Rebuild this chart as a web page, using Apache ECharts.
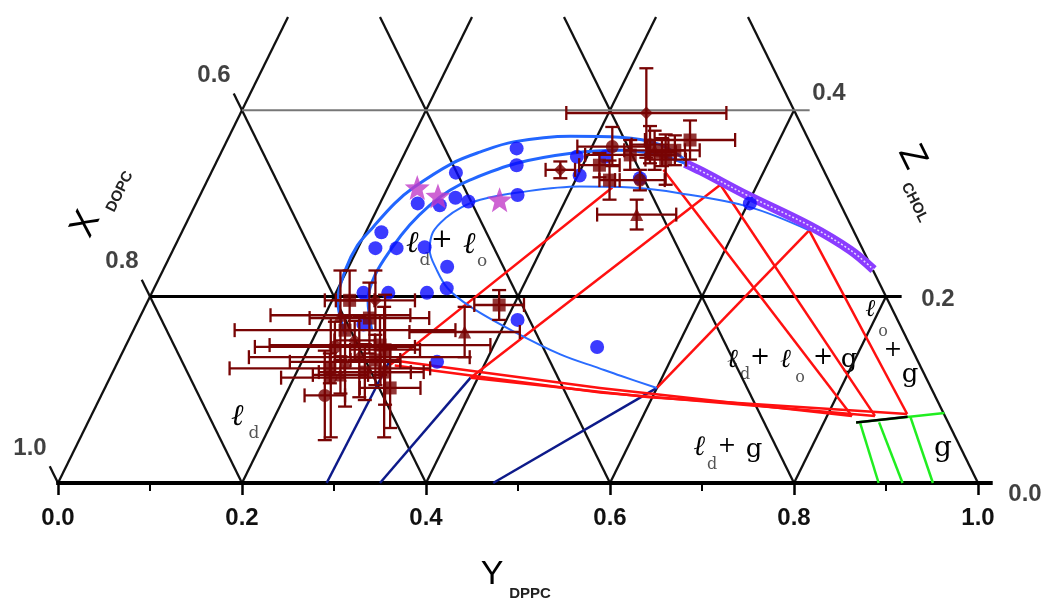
<!DOCTYPE html>
<html>
<head>
<meta charset="utf-8">
<title>DOPC / DPPC / Cholesterol phase diagram</title>
<script src="https://cdn.jsdelivr.net/npm/echarts/dist/echarts.min.js"></script>
<style>
  html, body { margin: 0; padding: 0; background: #fff; }
  #main { width: 1048px; height: 606px; }
</style>
</head>
<body>
<div id="main"></div>
<script>
// Compositions are given as [DPPC, CHOL] mole fractions; DOPC = 1 - DPPC - CHOL.
const tickValues = [0, 0.2, 0.4, 0.6, 0.8, 1.0];
const cholTop = 0.5;
const dopcLabels = [0.6, 0.8, 1.0];   // X_DOPC read along the left edge
const cholLabels = [0.4, 0.2, 0.0];   // Z_CHOL read along the right edge

// phase boundaries
const outerBoundary = [[0.233,0.159],[0.206,0.196],[0.198,0.229],[0.198,0.255],[0.205,0.274],[0.216,0.300],[0.228,0.317],[0.257,0.343],[0.281,0.355],[0.312,0.366],[0.371,0.372],[0.425,0.371],[0.473,0.363],[0.515,0.343]];
const middleBoundary = [[0.259,0.164],[0.239,0.196],[0.233,0.223],[0.237,0.253],[0.244,0.277],[0.255,0.298],[0.269,0.314],[0.285,0.325],[0.327,0.343],[0.383,0.354],[0.432,0.357],[0.478,0.352],[0.516,0.341]];
const innerBoundary = [[0.600,0.102],[0.554,0.115],[0.527,0.123],[0.477,0.138],[0.413,0.163],[0.354,0.189],[0.319,0.209],[0.297,0.229],[0.279,0.250],[0.273,0.269],[0.279,0.284],[0.291,0.296],[0.307,0.304],[0.346,0.312],[0.408,0.318],[0.464,0.317],[0.520,0.311],[0.604,0.296],[0.681,0.271]];
const loBand = [[0.510,0.343],[0.531,0.335],[0.594,0.309],[0.679,0.276],[0.736,0.250],[0.772,0.229]];

// tie lines and three-phase triangle edges
const redLines = [
  [[0.298,0.127],[0.444,0.317]],
  [[0.392,0.113],[0.560,0.320]],
  [[0.600,0.102],[0.681,0.271]],
  [[0.490,0.336],[0.827,0.072]],
  [[0.560,0.320],[0.852,0.072]],
  [[0.681,0.271],[0.886,0.074]],
  [[0.295,0.132],[0.538,0.102],[0.827,0.072]],
  [[0.303,0.126],[0.541,0.097],[0.852,0.072]],
  [[0.392,0.113],[0.597,0.092],[0.886,0.074]]
];
const navyLines = [
  [[0.292,0],[0.295,0.132]],
  [[0.350,0],[0.392,0.113]],
  [[0.473,0],[0.600,0.102]]
];
const greenLines = [
  [[0.835,0.065],[0.926,0.075]],
  [[0.840,0.064],[0.892,0]],
  [[0.860,0.065],[0.918,0]],
  [[0.891,0.071],[0.951,0]]
];
const gelEdge = [[0.835,0.065],[0.888,0.071]];

// measured compositions
const blueDots = [[0.319,0.359],[0.328,0.341],[0.389,0.350],[0.402,0.330],[0.345,0.309],[0.266,0.333],[0.279,0.306],[0.295,0.302],[0.241,0.300],[0.266,0.298],[0.217,0.269],[0.219,0.252],[0.242,0.252],[0.272,0.253],[0.307,0.232],[0.318,0.209],[0.299,0.204],[0.230,0.204],[0.257,0.204],[0.247,0.170],[0.412,0.175],[0.513,0.146],[0.347,0.130],[0.469,0.327],[0.420,0.350],[0.602,0.300]];
const stars = [[0.232,0.317],[0.259,0.308],[0.328,0.304]];
// [DPPC, CHOL, horizontal half-error, vertical half-error]
const errPoints = [
  [0.230,0.164,0.120,0.000],[0.217,0.180,0.076,0.048],[0.250,0.177,0.065,0.038],
  [0.228,0.146,0.087,0.027],[0.276,0.148,0.120,0.032],[0.260,0.135,0.120,0.043],
  [0.234,0.123,0.109,0.016],[0.247,0.130,0.060,0.048],[0.284,0.143,0.038,0.059],
  [0.240,0.113,0.054,0.064],[0.295,0.119,0.043,0.070],[0.247,0.196,0.043,0.032],
  [0.219,0.196,0.027,0.032],[0.361,0.162,0.060,0.027],[0.384,0.191,0.027,0.016],
  [0.243,0.094,0.022,0.048],[0.310,0.102,0.033,0.043],
  [0.441,0.397,0.087,0.048],[0.503,0.368,0.049,0.021],[0.470,0.357,0.033,0.021],
  [0.446,0.352,0.049,0.016],[0.422,0.361,0.038,0.021],[0.487,0.347,0.022,0.027],
  [0.378,0.336,0.016,0.009],[0.437,0.325,0.011,0.021],[0.485,0.288,0.043,0.016],
  [0.418,0.341,0.022,0.013],[0.470,0.325,0.027,0.011],[0.492,0.357,0.027,0.016],
  [0.246,0.153,0.022,0.021],[0.279,0.132,0.027,0.027],[0.249,0.116,0.030,0.020],
  [0.274,0.119,0.050,0.030],[0.462,0.363,0.020,0.020],[0.479,0.355,0.015,0.015]
];

const toXY = ([d, c]) => [d + c / 2, c];
const poly = pts => ({ coords: pts.map(toXY) });

// triangle frame: constant-DPPC, constant-DOPC and constant-CHOL lines
const stub = 0.018, over = 0.017;
const frameLines = [];
tickValues.slice(0, -1).forEach(d => frameLines.push(poly([[d, 0], [d, Math.min(cholTop, 1 - d)]])));
tickValues.forEach(o => {
  const d0 = 1 - o;
  if (d0 === 0) frameLines.push(poly([[0, 0], [-stub, stub]]));
  else if (d0 <= cholTop) frameLines.push(poly([[d0, 0], [-stub, d0 + stub]]));
  else frameLines.push(poly([[d0, 0], [d0 - cholTop, cholTop]]));
});

const starPath = 'path://' + Array.from({ length: 10 }, (_, i) => {
  const r = i % 2 ? 0.42 : 1, a = Math.PI / 2 + i * Math.PI / 5;
  return (i ? 'L' : 'M') + (50 + 50 * r * Math.cos(a)).toFixed(2) + ' ' + (50 - 50 * r * Math.sin(a)).toFixed(2);
}).join('') + 'Z';

const bold = '"Liberation Sans", Arial, sans-serif';
const edgeLabelStyle = { color: '#111', fontFamily: bold, fontWeight: 'bold', fontSize: 24 };
const rightNudge = [[35, -17], [52, 3], [47, 11]];
const maroon = '#780404';

const chart = echarts.init(document.getElementById('main'));

const lineSet = (data, color, width, z, extra) => Object.assign({
  type: 'lines', coordinateSystem: 'cartesian2d', polyline: true, clip: false,
  silent: true, z, data, lineStyle: { color, width, opacity: 1 }
}, extra || {});

const curve = (pts, color, width, z) => ({
  type: 'line', data: pts.map(toXY), smooth: 0.35, showSymbol: false, clip: false,
  silent: true, z, lineStyle: { color, width }
});

const txt = (text, x, y, size, opts) => ({
  type: 'text', x, y, silent: true,
  style: Object.assign({
    text, fill: '#000', font: size + 'px "DejaVu Serif", serif',
    textAlign: 'center', textVerticalAlign: 'middle', align: 'center', verticalAlign: 'middle'
  }, opts || {})
});
const ell = (x, y, size) => txt('ℓ', x, y, size, { font: 'italic bold ' + size + 'px "DejaVu Serif", serif' });
const sub = (t, x, y, size) => txt(t, x, y, size || 16, { fill: '#555' });

chart.setOption({
  animation: false,
  backgroundColor: '#fff',
  grid: { left: 58, right: 70, top: 17, bottom: 123 },
  xAxis: {
    type: 'value', min: 0, max: 1, interval: 0.2,
    axisLine: { show: false }, splitLine: { show: false },
    axisTick: { show: true, length: 12, lineStyle: { color: '#000', width: 2.5 } },
    minorTick: { show: true, splitNumber: 2, length: 8, lineStyle: { color: '#000', width: 2 } },
    axisLabel: { margin: 23, showMinLabel: true, showMaxLabel: true, formatter: v => v.toFixed(1),
      color: '#111', fontFamily: bold, fontWeight: 'bold', fontSize: 24 }
  },
  yAxis: { type: 'value', min: 0, max: cholTop, show: false },
  series: [
    lineSet(frameLines, '#111', 2.3, 1),
    lineSet([poly([[0, 0.2], [0.8 + over, 0.2]])], '#000', 3, 1),
    lineSet([poly([[0, 0.4], [0.6 + over, 0.4]])], '#777', 2, 1),
    lineSet([{ coords: [[-0.002, 0], [1.016, 0]] }], '#000', 4, 2),
    lineSet(navyLines.map(poly), '#0d1a8a', 2.5, 3),
    lineSet(redLines.map(poly), '#ff1010', 2.5, 3),
    lineSet(greenLines.map(poly), '#20ee20', 2.5, 3),
    lineSet([poly(gelEdge)], '#000', 2.5, 4),
    curve(outerBoundary, '#2266ff', 3, 3),
    curve(middleBoundary, '#2266ff', 3, 3),
    curve(innerBoundary, '#2a6cff', 2, 3),
    curve(loBand, '#8a3cff', 9, 4),
    Object.assign(curve(loBand, '#e6d6ff', 1.5, 5), { lineStyle: { color: '#e6d6ff', width: 1.5, type: [2, 2] } }),
    {
      type: 'scatter', data: blueDots.map(toXY), symbol: 'circle', symbolSize: 14, z: 6, silent: true,
      itemStyle: { color: '#0a0aff' }
    },
    {
      type: 'scatter', data: stars.map(toXY), symbol: starPath, symbolSize: 25, z: 7, silent: true,
      itemStyle: { color: '#c23cc8' }
    },
    {
      type: 'custom', z: 8, silent: true,
      data: errPoints.map(([d, c, ex, ey]) => [d + c / 2, c, ex, ey]),
      encode: { x: 0, y: 1 },
      renderItem(params, api) {
        const x = api.value(0), c = api.value(1), ex = api.value(2), ey = api.value(3);
        const L = api.coord([x - ex, c]), R = api.coord([x + ex, c]);
        const T = api.coord([x, c + ey]), B = api.coord([x, c - ey]);
        const cap = 7, style = { stroke: maroon, lineWidth: 2.3 };
        const ln = (x1, y1, x2, y2) => ({ type: 'line', shape: { x1, y1, x2, y2 }, style });
        const kids = [];
        if (ex > 0) kids.push(ln(L[0], L[1], R[0], R[1]), ln(L[0], L[1] - cap, L[0], L[1] + cap), ln(R[0], R[1] - cap, R[0], R[1] + cap));
        if (ey > 0) kids.push(ln(T[0], T[1], B[0], B[1]), ln(T[0] - cap, T[1], T[0] + cap, T[1]), ln(B[0] - cap, B[1], B[0] + cap, B[1]));
        return { type: 'group', children: kids };
      }
    },
    {
      type: 'scatter', z: 9, silent: true, symbolSize: 13,
      data: errPoints.map((p, i) => ({
        value: toXY(p),
        symbol: ['rect', 'triangle', 'rect', 'circle', 'rect', 'diamond'][i % 6],
        symbolRotate: i === 17 ? 180 : 0
      })),
      itemStyle: { color: maroon }
    },
    {
      type: 'scatter', z: 10, silent: true, symbolSize: 0,
      data: dopcLabels.map(v => ({ value: toXY([0, 1 - v]), name: v.toFixed(1) })),
      label: Object.assign({ show: true, position: 'inside', offset: [-28, -35], formatter: p => p.name }, edgeLabelStyle)
    },
    {
      type: 'scatter', z: 10, silent: true, symbolSize: 0,
      data: cholLabels.map((v, i) => ({ value: toXY([1 - v, v]), name: v.toFixed(1), label: { offset: rightNudge[i] } })),
      label: Object.assign({ show: true, position: 'inside', formatter: p => p.name }, edgeLabelStyle)
    }
  ],
  graphic: [
    // axis titles
    txt('Y', 492, 575, 34, { font: '34px "Liberation Sans", Arial, sans-serif' }),
    txt('DPPC', 530, 594, 15, { font: 'bold 15px "Liberation Sans", Arial, sans-serif', fill: '#222' }),
    {
      type: 'group', x: 86, y: 224, rotation: 1.112, silent: true,
      children: [
        txt('X', 0, 0, 36, { font: '36px "Liberation Sans", Arial, sans-serif' }),
        txt('DOPC', 44, 16, 15, { font: 'bold 15px "Liberation Sans", Arial, sans-serif', fill: '#222' })
      ]
    },
    {
      type: 'group', x: 912, y: 157, rotation: -1.112, silent: true,
      children: [
        txt('Z', 0, 0, 36, { font: '36px "Liberation Sans", Arial, sans-serif' }),
        txt('CHOL', 42, 18, 15, { font: 'bold 15px "Liberation Sans", Arial, sans-serif', fill: '#222' })
      ]
    },
    // phase regions
    ell(238, 417, 30), sub('d', 254, 434, 17),
    ell(413, 244, 30), sub('d', 425, 261, 17), txt('+', 442, 240, 26), ell(470, 245, 30), sub('o', 482, 262, 17),
    ell(733, 360, 26), sub('d', 745, 375), txt('+', 760, 358, 24), ell(786, 360, 26), sub('o', 800, 378), txt('+', 823, 358, 24), txt('g', 849, 360, 26),
    ell(871, 310, 24), sub('o', 883, 332), txt('+', 893, 350, 22), txt('g', 910, 375, 26),
    ell(700, 448, 28), sub('d', 712, 465), txt('+', 727, 446, 22), txt('g', 754, 450, 26),
    txt('g', 943, 449, 28)
  ]
});
</script>
</body>
</html>
